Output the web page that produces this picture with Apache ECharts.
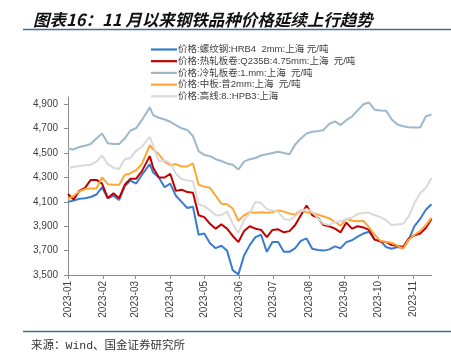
<!DOCTYPE html>
<html>
<head>
<meta charset="utf-8">
<script src="https://cdn.jsdelivr.net/npm/echarts@6/dist/echarts.min.js"></script>
<style>html,body{margin:0;padding:0;background:#fff;}#c{width:451px;height:355px;}</style>
</head>
<body>
<div id="c"></div>
<script>
const titleText = '图表16：11 月以来钢铁品种价格延续上行趋势';
const sourceText = '来源：Wind、国金证券研究所';
const seriesNames = [
  '价格:螺纹钢:HRB4  2mm:上海 元/吨',
  '价格:热轧板卷:Q235B:4.75mm:上海  元/吨',
  '价格:冷轧板卷:1.mm:上海  元/吨',
  '价格:中板:普2mm:上海  元/吨',
  '价格:高线:8.:HPB3:上海'
];
const xTickLabels = ['2023-01','2023-02','2023-03','2023-04','2023-05','2023-06','2023-07','2023-08','2023-09','2023-10','2023-11'];
const yTickValues = [3500,3700,3900,4100,4300,4500,4700,4900];
const dates = [
  '2023-01-01','2023-01-06','2023-01-11','2023-01-16','2023-01-21','2023-01-26','2023-01-31',
  '2023-02-05','2023-02-10','2023-02-15','2023-02-20','2023-02-25',
  '2023-03-02','2023-03-07','2023-03-14','2023-03-17','2023-03-22','2023-03-27',
  '2023-04-01','2023-04-06','2023-04-11','2023-04-16','2023-04-21','2023-04-26',
  '2023-05-01','2023-05-06','2023-05-11','2023-05-16','2023-05-21','2023-05-26','2023-05-31',
  '2023-06-05','2023-06-10','2023-06-15','2023-06-20','2023-06-25','2023-06-30',
  '2023-07-05','2023-07-10','2023-07-15','2023-07-20','2023-07-25','2023-07-30',
  '2023-08-04','2023-08-09','2023-08-14','2023-08-19','2023-08-24','2023-08-29',
  '2023-09-03','2023-09-08','2023-09-13','2023-09-18','2023-09-23','2023-09-28',
  '2023-10-03','2023-10-08','2023-10-13','2023-10-18','2023-10-23','2023-10-28',
  '2023-11-02','2023-11-07','2023-11-12','2023-11-17'
];
const rebar = [
  4100,4110,4125,4130,4140,4160,4220,
  4130,4150,4115,4230,4275,
  4250,4320,4410,4340,4300,4220,
  4250,4150,4100,4050,4060,3830,
  3840,3760,3720,3740,3700,3540,3505,
  3660,3745,3810,3830,3690,3770,
  3770,3690,3690,3720,3780,3800,
  3715,3705,3700,3710,3735,3720,
  3770,3785,3815,3840,3855,3790,
  3780,3730,3715,3730,3720,3790,
  3900,3960,4035,4080
];
const hotRolled = [
  4165,4120,4190,4215,4280,4280,4250,
  4130,4170,4130,4240,4290,
  4290,4350,4475,4380,4300,4300,
  4330,4190,4200,4180,4175,3990,
  3975,3920,3880,3915,3880,3820,3770,
  3860,3900,3880,3870,3810,3870,
  3875,3850,3860,3910,3990,4070,
  3990,3970,3910,3900,3880,3850,
  3930,3880,3900,3890,3870,3790,
  3775,3770,3745,3740,3730,3800,
  3825,3840,3885,3960
];
const coldRolled = [
  4535,4530,4550,4560,4575,4620,4660,
  4580,4575,4575,4620,4685,
  4705,4770,4875,4812,4790,4775,
  4757,4730,4703,4690,4640,4515,
  4485,4475,4450,4435,4415,4405,4365,
  4430,4450,4460,4480,4490,4500,
  4511,4500,4490,4570,4620,4660,
  4675,4680,4690,4740,4760,4730,
  4770,4800,4850,4900,4915,4855,
  4850,4848,4775,4735,4720,4712,
  4710,4710,4800,4818
];
const plate = [
  4120,4150,4185,4205,4210,4210,4300,
  4245,4240,4240,4320,4335,
  4360,4410,4566,4530,4490,4430,
  4400,4410,4390,4390,4415,4240,
  4225,4215,4150,4085,4080,4045,3945,
  3990,4015,4010,4015,4010,4015,
  4030,4020,4005,3995,4030,4015,
  4010,3995,3980,3965,3935,3905,
  3960,3945,3940,3945,3890,3830,
  3780,3770,3765,3740,3715,3790,
  3830,3860,3910,3970
];
const wireRod = [
  4378,4385,4395,4400,4405,4430,4480,
  4410,4380,4370,4450,4460,
  4520,4550,4634,4560,4430,4440,
  4420,4330,4285,4275,4270,4080,
  4065,4030,3990,3990,4020,3920,3845,
  3950,4005,4100,4090,4040,4030,
  4020,3960,3950,3980,4025,4040,
  4020,3965,3920,3910,3935,3940,
  3960,3970,4000,4010,4010,3990,
  3975,3950,3910,3915,3920,3980,
  4090,4170,4215,4295
];
const colors = ['#3A7BD0','#C00000','#9DB8CB','#FFA733','#D9D9D9'];

function localTs(s){
  const p = s.split('-').map(Number);
  return new Date(p[0], p[1]-1, p[2] || 1).getTime();
}
const monthTicks = xTickLabels.map(s => localTs(s + '-01'));
const allValues = [rebar, hotRolled, coldRolled, plate, wireRod];

const chart = echarts.init(document.getElementById('c'), null, {renderer:'canvas'});
const labelFont = "'Liberation Sans', Arial, 'Noto Sans CJK SC', sans-serif";
chart.setOption({
  animation: false,
  backgroundColor: '#fff',
  title: [
    {
      text: titleText, left: 28, top: 6,
      textStyle: {fontSize: 16.5, fontWeight: 'bold', fontStyle: 'italic', color: '#111',
        fontFamily: "'Noto Sans CJK SC', sans-serif"}
    },
    {
      text: sourceText, left: 26, top: 335,
      textStyle: {fontSize: 11.5, fontWeight: 'normal', color: '#333',
        fontFamily: "'Liberation Mono', 'Noto Sans CJK SC', monospace"}
    }
  ],
  graphic: [
    {type:'line', shape:{x1:23, y1:29.5, x2:451, y2:29.5}, style:{stroke:'#3E6F95', lineWidth:1.5}, silent:true},
    {type:'line', shape:{x1:23, y1:331.5, x2:451, y2:331.5}, style:{stroke:'#3E6F95', lineWidth:1.5}, silent:true}
  ],
  legend: {
    orient: 'vertical', left: 146, top: 38.5,
    itemWidth: 26, itemHeight: 2.2, itemGap: -0.3,
    icon: 'rect',
    textStyle: {fontSize: 9.5, lineHeight: 12, color: '#404040', fontFamily: labelFont, padding: [0,0,0,-4]},
    data: seriesNames
  },
  grid: {left: 68, right: 19.5, top: 97, bottom: 80},
  xAxis: {
    type: 'value',
    min: localTs(dates[0]), max: localTs(dates[dates.length-1]),
    axisLine: {lineStyle: {color: '#8C8C8C', width: 1}},
    axisTick: {show: true, length: 4, lineStyle: {color: '#8C8C8C'}, customValues: monthTicks},
    axisLabel: {
      rotate: 90, margin: 6, fontSize: 10, color: '#404040', fontFamily: labelFont,
      customValues: monthTicks, hideOverlap: false,
      formatter: function(v){ const d = new Date(v); return d.getFullYear() + '-' + String(d.getMonth()+1).padStart(2,'0'); }
    },
    splitLine: {show: false}
  },
  yAxis: {
    type: 'value', min: 3500, max: 4960,
    axisLine: {show: true, lineStyle: {color: '#8C8C8C', width: 1}},
    axisTick: {show: true, length: 4, lineStyle: {color: '#8C8C8C'}, customValues: yTickValues},
    axisLabel: {
      fontSize: 10, color: '#404040', margin: 10, fontFamily: labelFont,
      customValues: yTickValues,
      formatter: v => v.toLocaleString('en-US')
    },
    splitLine: {show: false}
  },
  series: seriesNames.map((name, i) => ({
    name: name,
    type: 'line',
    showSymbol: false,
    symbol: 'none',
    color: colors[i],
    lineStyle: {width: 2, color: colors[i]},
    data: dates.map((d, j) => [localTs(d), allValues[i][j]])
  }))
});
</script>
</body>
</html>
